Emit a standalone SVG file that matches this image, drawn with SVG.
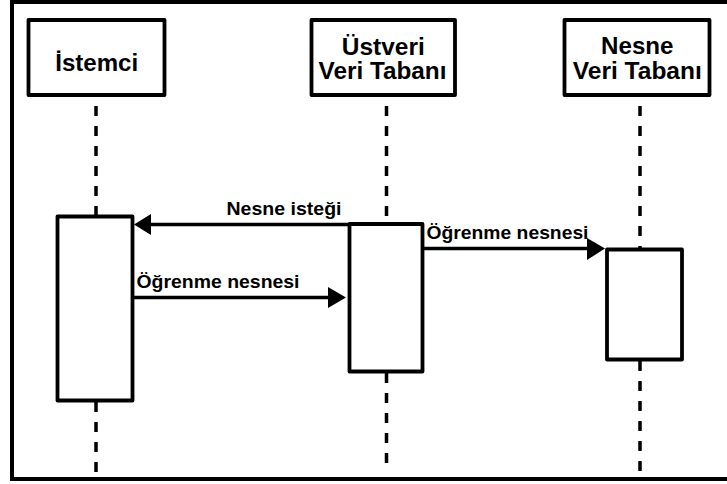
<svg xmlns="http://www.w3.org/2000/svg" width="727" height="484" viewBox="0 0 727 484">
  <style>
    .frame { fill: none; stroke: #000; stroke-width: 4; }
    .box { fill: #fff; stroke: #000; stroke-width: 3.8; stroke-linejoin: round; }
    .life { fill: none; stroke: #000; stroke-width: 3.5; stroke-dasharray: 10 10; }
    .msg { fill: none; stroke: #000; stroke-width: 3.5; }
    .head { fill: #000; }
    .title { font-family: "Liberation Sans", Arial, sans-serif; font-weight: bold; font-size: 23px; fill: #000; text-anchor: middle; }
    .label { font-family: "Liberation Sans", Arial, sans-serif; font-weight: bold; font-size: 18.5px; fill: #000; }
  </style>
  <rect width="727" height="484" fill="#fff"/>

  <!-- outer frame, right edge runs off the page -->
  <rect class="frame" x="12" y="2" width="730" height="477"/>

  <!-- lifelines and messages -->
  <g id="connectors">
    <line class="life" x1="96" y1="106" x2="96" y2="216"/>
    <line class="life" x1="96" y1="402" x2="96" y2="472"/>
    <line class="life" x1="386.5" y1="106" x2="386.5" y2="224"/>
    <line class="life" x1="386.5" y1="373" x2="386.5" y2="472"/>
    <line class="life" x1="640" y1="106" x2="640" y2="249"/>
    <line class="life" x1="640" y1="361" x2="640" y2="472"/>

    <g id="msg-nesne-istegi">
      <line class="msg" x1="349.5" y1="224.5" x2="148" y2="224.5"/>
      <polygon class="head" points="134,224.5 151,214 151,235"/>
      <text class="label" x="226.5" y="215" textLength="115" lengthAdjust="spacingAndGlyphs">Nesne isteği</text>
    </g>
    <g id="msg-ogrenme-1">
      <line class="msg" x1="133" y1="297.5" x2="330" y2="297.5"/>
      <polygon class="head" points="346,297.5 328,287 328,308"/>
      <text class="label" x="136.5" y="288" textLength="163" lengthAdjust="spacingAndGlyphs">Öğrenme nesnesi</text>
    </g>
    <g id="msg-ogrenme-2">
      <line class="msg" x1="422.5" y1="248.5" x2="590" y2="248.5"/>
      <polygon class="head" points="605,248.5 587,238 587,260"/>
      <text class="label" x="426.5" y="238.5" textLength="162" lengthAdjust="spacingAndGlyphs">Öğrenme nesnesi</text>
    </g>
  </g>

  <g id="istemci">
    <rect class="box" x="28.5" y="20" width="136" height="75"/>
    <text class="title" x="96.7" y="70.5" textLength="83" lengthAdjust="spacingAndGlyphs">İstemci</text>
    <rect class="box" x="57.5" y="216.5" width="75" height="184"/>
  </g>

  <g id="ustveri-db">
    <rect class="box" x="311.5" y="20" width="143.5" height="75"/>
    <text class="title" x="383.3" y="55" textLength="83" lengthAdjust="spacingAndGlyphs">Üstveri</text>
    <text class="title" x="382.5" y="78.5" textLength="128" lengthAdjust="spacingAndGlyphs">Veri Tabanı</text>
    <rect class="box" x="349.5" y="224" width="73" height="147.5"/>
  </g>

  <g id="nesne-db">
    <rect class="box" x="564.5" y="20" width="145" height="75"/>
    <text class="title" x="637.3" y="53.5" textLength="72.5" lengthAdjust="spacingAndGlyphs">Nesne</text>
    <text class="title" x="637.3" y="78.5" textLength="129" lengthAdjust="spacingAndGlyphs">Veri Tabanı</text>
    <rect class="box" x="607" y="249.5" width="75" height="110"/>
  </g>
</svg>
